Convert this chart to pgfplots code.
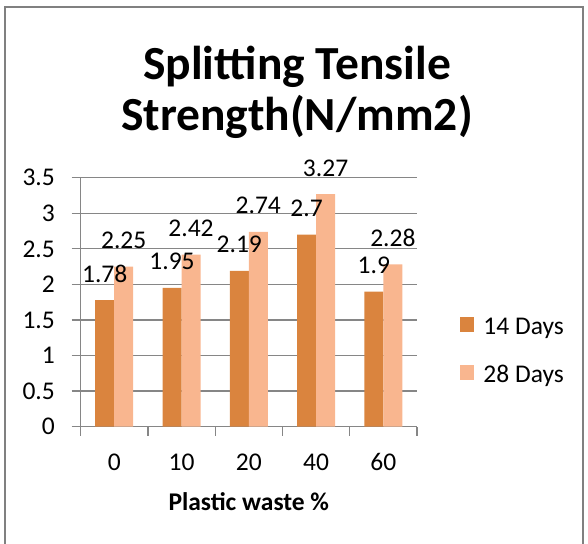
\documentclass[border=0pt]{standalone}
\usepackage{pgfplots}
\pgfplotsset{compat=1.18}
\usepackage{fontspec}
\setmainfont{Carlito}
\definecolor{dayA}{RGB}{218,132,62}
\definecolor{dayB}{RGB}{249,182,143}
\definecolor{gridgray}{RGB}{134,134,134}
\definecolor{framegray}{RGB}{128,128,128}

\begin{document}
\begin{tikzpicture}
% page extent
\useasboundingbox (-80.6bp,-117.3bp) rectangle (507.4bp,426.7bp);
% chart frame (its lower edge lies below the page)
\draw[framegray, line width=1.5bp] (-75.6bp,-140bp) -- (-75.6bp,419.7bp) -- (502.4bp,419.7bp) -- (502.4bp,-140bp);

\begin{axis}[
  at={(0,0)}, anchor=south west,
  scale only axis, width=336.4bp, height=249bp,
  xmin=-0.5, xmax=4.5, ymin=0, ymax=3.5,
  ybar=0pt, bar width=19bp,
  /pgf/number format/assume math mode=true,
  font=\fontsize{25.5bp}{30bp}\selectfont,
  % category boundaries carry the tick marks, category centres the names
  xtick={-0.5,0.5,1.5,2.5,3.5,4.5}, xticklabels={},
  extra x ticks={0,1,2,3,4}, extra x tick labels={0,10,20,40,60},
  extra x tick style={major tick length=0pt, grid=none},
  ytick={0,0.5,1,1.5,2,2.5,3,3.5},
  yticklabels={0,0.5,1,1.5,2,2.5,3,3.5},
  tick align=outside,
  major tick length=9bp,
  tick style={gridgray, line width=1.3bp},
  ymajorgrids, grid style={gridgray, line width=1.3bp},
  axis x line*=bottom, axis y line*=left,
  axis line style={gridgray, line width=1.3bp, -},
  yticklabel style={anchor=east, inner sep=0pt, xshift=-16.6bp},
  xticklabel style={anchor=base, inner sep=0pt, yshift=-43.5bp},
  xlabel={\textbf{Plastic waste \%}},
  xlabel style={at={(axis description cs:0.5,-0.337)}, anchor=base, inner sep=0pt},
  nodes near coords,
  every node near coord/.append style={anchor=base, yshift=18bp, inner sep=0pt, black},
  legend style={draw=none, fill=none, at={(axis description cs:1.1278,0.301)}, anchor=west,
    inner sep=0pt, column sep=9bp, row sep=27bp,
    nodes={inner sep=0pt, text height=16bp, text depth=4bp}},
  legend cell align=left,
]
\addplot[fill=dayA, draw=none,
  legend image code/.code={\fill[dayA] (0bp,-3.4bp) rectangle (14.3bp,11bp);}]
  coordinates {(0,1.78) (1,1.95) (2,2.19) (3,2.7) (4,1.9)};
\addplot[fill=dayB, draw=none,
  legend image code/.code={\fill[dayB] (0bp,-3.4bp) rectangle (14.3bp,11bp);}]
  coordinates {(0,2.25) (1,2.42) (2,2.74) (3,3.27) (4,2.28)};
\legend{14 Days, 28 Days}
\end{axis}

% chart title
\node[anchor=base, inner sep=0pt, font=\fontsize{47.5bp}{52bp}\selectfont\bfseries] at (216.4bp,347.2bp) {Splitting Tensile};
\node[anchor=base, inner sep=0pt, font=\fontsize{47.5bp}{52bp}\selectfont\bfseries] at (216.4bp,295.7bp) {Strength(N/mm2)};
\end{tikzpicture}
\end{document}
